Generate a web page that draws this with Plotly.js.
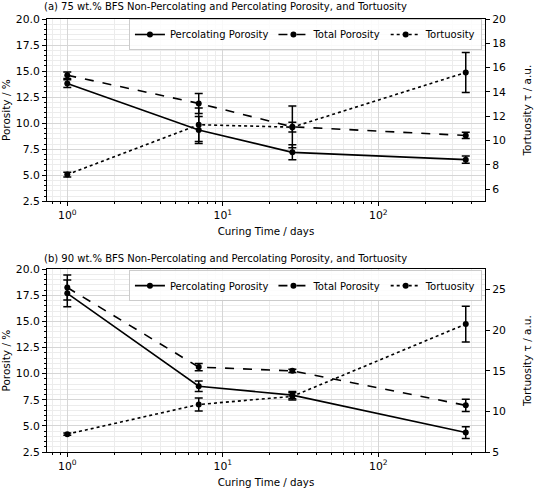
<!DOCTYPE html>
<html>
<head>
<meta charset="utf-8">
<script src="https://cdn.plot.ly/plotly-3.0.1.min.js"></script>
<style>html,body{margin:0;padding:0;background:#fff;}#chart{width:544px;height:490px;}</style>
</head>
<body>
<div id="chart"></div>
<script>
// Curing time (days)
const days = [1, 7, 28, 365];

// (a) 75 wt.% BFS
const aPerc = [13.8, 9.35, 7.2, 6.5];
const aPercErr = [0.38, 1.3, 0.72, 0.35];
const aTotal = [14.6, 11.9, 9.65, 8.82];
const aTotalErr = [0.32, 0.96, 2.0, 0.3];
const aTort = [7.2, 11.3, 11.1, 15.6];
const aTortErr = [0.2, 1.37, 0.4, 1.64];

// (b) 90 wt.% BFS
const bPerc = [17.7, 8.8, 7.95, 4.36];
const bPercErr = [1.28, 0.5, 0.35, 0.56];
const bTotal = [18.25, 10.63, 10.27, 6.97];
const bTotalErr = [1.2, 0.35, 0.15, 0.58];
const bTort = [7.2, 10.85, 11.85, 20.75];
const bTortErr = [0.15, 0.8, 0.45, 2.2];

const seriesNames = ['Percolating Porosity', 'Total Porosity', 'Tortuosity'];
const titles = ['(a) 75 wt.% BFS Non-Percolating and Percolating Porosity, and Tortuosity',
                '(b) 90 wt.% BFS Non-Percolating and Percolating Porosity, and Tortuosity'];
const xTickVals = [1, 10, 100];
const xTickText = ['10<sup>0</sup>', '10<sup>1</sup>', '10<sup>2</sup>'];

const FONT = 'DejaVu Sans, sans-serif';
const TICK = 10.8;
const dashes = ['solid', 'dash', 'dot'];

function mk(name, y, err, dash, xa, ya, legend) {
  return {
    x: days, y: y, name: name, type: 'scatter', mode: 'lines+markers',
    xaxis: xa, yaxis: ya, legend: legend,
    line: {color: 'black', width: 1.6, dash: dash},
    marker: {color: 'black', size: 6, symbol: 'circle'},
    error_y: {type: 'data', array: err, visible: true, color: 'black', thickness: 1.5, width: 4}
  };
}

const traces = [
  mk(seriesNames[0], aPerc, aPercErr, dashes[0], 'x', 'y', 'legend'),
  mk(seriesNames[1], aTotal, aTotalErr, dashes[1], 'x', 'y', 'legend'),
  mk(seriesNames[2], aTort, aTortErr, dashes[2], 'x', 'y2', 'legend'),
  mk(seriesNames[0], bPerc, bPercErr, dashes[0], 'x2', 'y3', 'legend2'),
  mk(seriesNames[1], bTotal, bTotalErr, dashes[1], 'x2', 'y3', 'legend2'),
  mk(seriesNames[2], bTort, bTortErr, dashes[2], 'x2', 'y4', 'legend2')
];

const gridMajor = '#d6d6d6';
const gridMinor = '#ececec';
function xAxis(anchor) {
  return {
    type: 'log', range: [-0.1305, 2.686], anchor: anchor,
    tickvals: xTickVals, ticktext: xTickText,
    ticks: 'outside', ticklen: 4, tickwidth: 1, tickcolor: 'black',
    showline: true, linecolor: 'black', linewidth: 1, mirror: true,
    showgrid: true, gridcolor: gridMajor, gridwidth: 1,
    minor: {dtick: 'D1', ticks: 'outside', ticklen: 2, tickcolor: 'black', showgrid: true, gridcolor: gridMinor},
    zeroline: false,
    tickfont: {family: FONT, size: TICK, color: 'black'},
    title: {text: 'Curing Time / days', font: {family: FONT, size: 10.3, color: 'black'}, standoff: 6},
    automargin: false
  };
}
function yLeft(domain, anchor) {
  return {
    domain: domain, anchor: anchor, range: [2.5, 20], dtick: 2.5, tick0: 0,
    tickformat: '.1f',
    ticks: 'outside', ticklen: 4, tickcolor: 'black',
    showline: true, linecolor: 'black', linewidth: 1, mirror: true,
    showgrid: true, gridcolor: gridMajor,
    minor: {dtick: 0.5, ticks: 'outside', ticklen: 2, tickcolor: 'black', showgrid: true, gridcolor: gridMinor},
    zeroline: false,
    tickfont: {family: FONT, size: TICK, color: 'black'},
    title: {text: 'Porosity / %', font: {family: FONT, size: 10.5, color: 'black'}, standoff: 3},
    automargin: false
  };
}
function yRight(over, range, dtick) {
  return {
    overlaying: over, side: 'right', anchor: over === 'y' ? 'x' : 'x2', range: range, dtick: dtick, tick0: 0,
    ticks: 'outside', ticklen: 4, tickcolor: 'black',
    showline: true, linecolor: 'black', linewidth: 1,
    showgrid: false, zeroline: false,
    tickfont: {family: FONT, size: TICK, color: 'black'},
    title: {text: 'Tortuosity τ / a.u.', font: {family: FONT, size: 10.5, color: 'black'}, standoff: 18},
    automargin: false
  };
}

const legendBase = {orientation: 'h', x: 0.993, xanchor: 'right', yanchor: 'top',
  bgcolor: 'rgba(255,255,255,0.85)', bordercolor: '#cccccc', borderwidth: 1,
  font: {family: FONT, size: 10, color: 'black'}, itemwidth: 30};

const layout = {
  width: 544, height: 490,
  margin: {l: 47, r: 59, t: 19, b: 38},
  paper_bgcolor: 'white', plot_bgcolor: 'white',
  font: {family: FONT, size: 10, color: 'black'},
  xaxis: xAxis('y'),
  xaxis2: xAxis('y3'),
  yaxis: yLeft([0.579, 1], 'x'),
  yaxis2: yRight('y', [5, 20], 2),
  yaxis3: yLeft([0, 0.422], 'x2'),
  yaxis4: yRight('y3', [5, 27.5], 5),
  legend: Object.assign({}, legendBase, {y: 1.0}),
  legend2: Object.assign({}, legendBase, {y: 0.42}),
  annotations: [
    {text: titles[0], xref: 'paper', yref: 'paper', x: -0.011, y: 1.028, xanchor: 'left', yanchor: 'middle',
     showarrow: false, font: {family: FONT, size: 10, color: 'black'}},
    {text: titles[1], xref: 'paper', yref: 'paper', x: -0.011, y: 0.448, xanchor: 'left', yanchor: 'middle',
     showarrow: false, font: {family: FONT, size: 10, color: 'black'}}
  ],
  showlegend: true
};

Plotly.newPlot('chart', traces, layout, {displayModeBar: false, staticPlot: true});
</script>
</body>
</html>
